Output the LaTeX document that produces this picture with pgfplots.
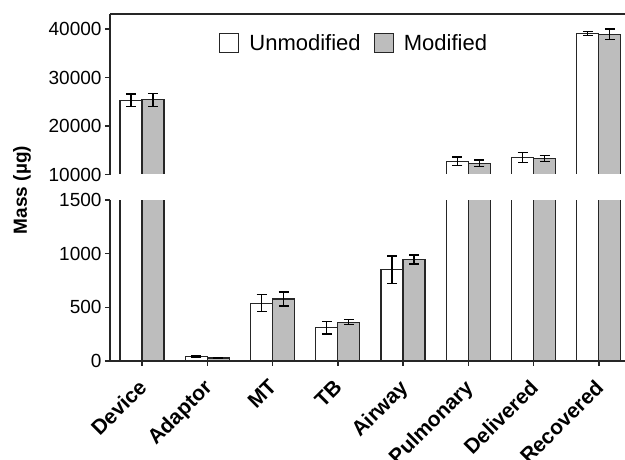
\documentclass[border=0pt]{standalone}
\usepackage{fontspec}
\setmainfont{Liberation Sans}
\usepackage{pgfplots}
\pgfplotsset{compat=1.18}
\usepackage{pgfplotstable}

\pgfplotstableread{
x y e
0 25300 1300
1 45 8
2 538 80
3 311 60
4 849 130
5 12700 900
6 13500 1000
7 39100 400
}\unmod
\pgfplotstableread{
x y e
0 25400 1300
1 28 6
2 578 65
3 362 25
4 945 42
5 12350 650
6 13350 650
7 38900 1100
}\modi

\definecolor{axc}{gray}{0.15}
\definecolor{modfill}{gray}{0.74}

\pgfplotsset{
  sqlegend/.style={legend image code/.code={\draw[##1] (0pt,-9.5pt) rectangle (19pt,9.5pt); \path (27pt,0pt);}},
  common/.style={
    scale only axis, width=515pt,
    xmin=-0.49, xmax=7.4,
    ybar=0pt, bar width=22pt,
    axis line style={-, line width=1.6pt, axc},
    tick style={line width=1.4pt, axc},
    tick align=outside, major tick length=5pt,
    ticklabel style={font=\fontsize{19}{22}\selectfont},
    scaled y ticks=false,
    /pgf/number format/assume math mode=true,
    /pgf/number format/set thousands separator={},
    clip=true,
  },
  ebars/.style={error bars/.cd, y dir=both, y explicit,
    error bar style={line width=1.2pt, black},
    error mark options={rotate=90, line width=1.2pt, mark size=5pt, black}, /pgfplots/.cd},
  ubar/.style={bar shift=-11pt, draw=axc, line width=1.2pt, fill=white, ebars},
  mbar/.style={bar shift=11pt, draw=axc, line width=1.2pt, fill=modfill, ebars},
}

\begin{document}
\begin{tikzpicture}[x=1pt,y=1pt]
\path[use as bounding box] (0,0) rectangle (625,459);
% lower axis
\begin{axis}[common,
  at={(110pt,98pt)}, anchor=south west,
  height=161pt,
  ymin=0, ymax=1500, ytick={0,500,1000,1500},
  axis x line*=bottom, axis y line*=left,
  xtick={0,...,7},
  xticklabels={Device,Adaptor,MT,TB,Airway,Pulmonary,Delivered,Recovered},
  xticklabel style={rotate=45, anchor=north east, font=\fontsize{21}{24}\selectfont\bfseries, inner sep=1pt, xshift=-11pt, yshift=-4pt},
]
\addplot[ubar] table[x=x, y=y, y error=e]{\unmod};
\addplot[mbar] table[x=x, y=y, y error=e]{\modi};
\end{axis}
% upper axis
\begin{axis}[common,
  at={(110pt,284.5pt)}, anchor=south west,
  height=160.5pt,
  ymin=10000, ymax=43100, ytick={10000,20000,30000,40000},
  axis x line*=top, axis y line*=left,
  xtick=\empty,
  restrict y to domain=10000:50000,
  legend style={at={(0.474,0.82)}, anchor=center, draw=none, fill=none,
    font=\fontsize{22}{26}\selectfont, legend columns=2,
    /tikz/every even column/.append style={column sep=11pt}},
]
\clip (rel axis cs:-0.1,0.006) rectangle (rel axis cs:1.1,1.1);
\addlegendimage{sqlegend, draw=axc, line width=1.2pt, fill=white}
\addlegendentry{Unmodified}
\addlegendimage{sqlegend, draw=axc, line width=1.2pt, fill=modfill}
\addlegendentry{Modified}
\addplot[forget plot, ubar] table[x=x, y=y, y error=e]{\unmod};
\addplot[forget plot, mbar] table[x=x, y=y, y error=e]{\modi};
\end{axis}
\node[rotate=90, font=\fontsize{19}{22}\selectfont\bfseries] at (22,269) {Mass (µg)};
\end{tikzpicture}
\end{document}
